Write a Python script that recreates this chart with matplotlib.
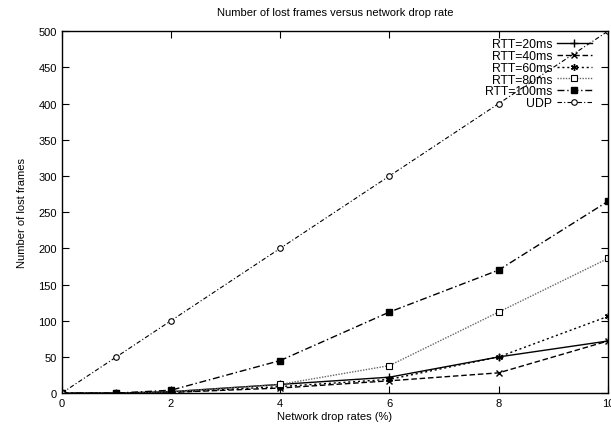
import matplotlib
matplotlib.use("Agg")
import matplotlib.pyplot as plt

x = [0, 1, 2, 4, 6, 8, 10]
rtt20 = [0, 0, 2, 12, 22, 50, 72]
rtt40 = [0, 0, 1, 7, 17, 28, 72]
rtt60 = [0, 0, 1, 9, 19, 50, 106]
rtt80 = [0, 0, 2, 12, 38, 112, 186]
rtt100 = [0, 0, 4, 45, 112, 170, 265]
udp = [0, 50, 100, 200, 300, 400, 500]

plt.rcParams['font.family'] = ['Liberation Sans', 'DejaVu Sans']
plt.rcParams['font.size'] = 8

fig = plt.figure(figsize=(6.11, 4.35), dpi=100)
ax = fig.add_axes([0.101, 0.094, 0.894, 0.832])

ms = 4
ax.plot(x, rtt20, color='black', lw=1, ls='-', marker='+', ms=ms+2, mew=1, label='RTT=20ms')
ax.plot(x, rtt40, color='black', lw=1, ls=(0, (4, 2)), marker='x', ms=ms+1, mew=1, label='RTT=40ms')
ax.plot(x, rtt60, color='black', lw=1, ls=(0, (1.5, 2)), marker=(6, 2, 0), ms=ms+1, mew=1, label='RTT=60ms')
ax.plot(x, rtt80, color='#666666', lw=1, ls=(0, (1, 1)), marker='s', ms=ms, mfc='white', mec='black', mew=0.8, label='RTT=80ms')
ax.plot(x, rtt100, color='black', lw=1, ls=(0, (5, 2, 1, 2)), marker='s', ms=ms+1, mfc='black', mec='black', label='RTT=100ms')
ax.plot(x, udp, color='black', lw=0.8, ls=(0, (4, 2, 1, 2)), marker='o', ms=ms, mfc='white', mec='black', mew=0.8, label='UDP')

ax.set_xlim(0, 10)
ax.set_ylim(0, 500)
ax.set_xticks([0, 2, 4, 6, 8, 10])
ax.set_yticks(range(0, 501, 50))
ax.tick_params(direction='in', top=True, right=True, length=5, width=0.8)
for s in ax.spines.values():
    s.set_linewidth(1)

ax.set_title('Number of lost frames versus network drop rate', fontsize=8, pad=12)
ax.set_xlabel('Network drop rates (%)', labelpad=2)
ax.set_ylabel('Number of lost frames', labelpad=8)

leg = ax.legend(loc='upper right', bbox_to_anchor=(0.97, 0.98), frameon=False, markerfirst=False,
                handlelength=2.8, labelspacing=-0.02, borderaxespad=0.0, borderpad=0.0,
                handletextpad=0.4, fontsize=8.8)

fig.savefig('out.png', dpi=100)
